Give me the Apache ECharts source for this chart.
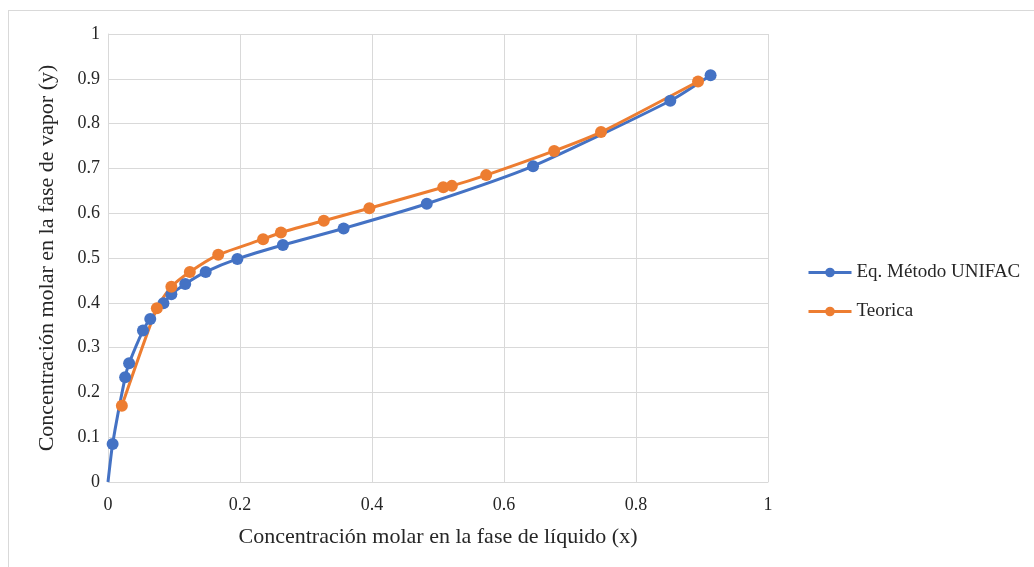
<!DOCTYPE html>
<html>
<head>
<meta charset="utf-8">
<script src="https://cdn.jsdelivr.net/npm/echarts@6/dist/echarts.min.js"></script>
<style>
  html, body { margin: 0; padding: 0; background: #fff; }
  #frame { position: absolute; left: 8px; top: 10px; width: 1026px; height: 557px;
           border-top: 1px solid #d9d9d9; border-left: 1px solid #d9d9d9; }
  #chart { position: absolute; left: 0; top: 0; width: 1034px; height: 567px; }
</style>
</head>
<body>
<div id="frame"></div>
<div id="chart"></div>
<script>
// series names
const seriesNames = ['Eq. Método UNIFAC', 'Teorica'];

// Eq. Método UNIFAC (x, y)
const unifacX = [0, 0.007, 0.026, 0.032, 0.053, 0.064, 0.084, 0.096, 0.117, 0.148, 0.196, 0.265, 0.357, 0.483, 0.644, 0.852, 0.913];
const unifacY = [0, 0.085, 0.234, 0.265, 0.338, 0.364, 0.399, 0.419, 0.442, 0.469, 0.498, 0.529, 0.566, 0.621, 0.705, 0.851, 0.908];

// Teorica (x, y)
const teoricaX = [0.021, 0.074, 0.096, 0.124, 0.167, 0.235, 0.262, 0.327, 0.396, 0.508, 0.521, 0.573, 0.676, 0.747, 0.894];
const teoricaY = [0.170, 0.388, 0.436, 0.469, 0.507, 0.542, 0.557, 0.583, 0.611, 0.658, 0.661, 0.685, 0.739, 0.781, 0.894];

const font = '"Liberation Serif", "Times New Roman", serif';

// 把 x/y 数组拼成点
const toPoints = (xs, ys) => xs.map((x, i) => [x, ys[i]]);

// 第一个点 (0,0) 不画标记
const unifacData = toPoints(unifacX, unifacY).map((p, i) =>
  i === 0 ? { value: p, symbol: 'none' } : p
);

const chart = echarts.init(document.getElementById('chart'), null, { renderer: 'canvas' });

const option = {
  animation: false,
  color: ['#4472C4', '#ED7D31'],
  grid: { left: 108, right: 266, top: 34, bottom: 85 },
  legend: {
    orient: 'vertical',
    left: 802,
    top: 258,
    itemWidth: 43,
    itemHeight: 12,
    itemGap: 20,
    lineStyle: { width: 3 },
    textStyle: { fontFamily: font, fontSize: 19, color: '#262626' },
    data: seriesNames
  },
  xAxis: {
    type: 'value',
    min: 0,
    max: 1,
    interval: 0.2,
    name: 'Concentración molar en la fase de líquido (x)',
    nameLocation: 'middle',
    nameGap: 44,
    nameTextStyle: { fontFamily: font, fontSize: 22, color: '#262626' },
    axisLine: { show: true, lineStyle: { color: '#d9d9d9', width: 1 } },
    axisTick: { show: false },
    axisLabel: { fontFamily: font, fontSize: 18, color: '#262626', margin: 14 },
    splitLine: { show: true, lineStyle: { color: '#d9d9d9', width: 1 } }
  },
  yAxis: {
    type: 'value',
    min: 0,
    max: 1,
    interval: 0.1,
    name: 'Concentración molar en la fase de vapor (y)',
    nameLocation: 'middle',
    nameGap: 50,
    nameTextStyle: { fontFamily: font, fontSize: 22, color: '#262626' },
    axisLine: { show: true, lineStyle: { color: '#d9d9d9', width: 1 } },
    axisTick: { show: false },
    axisLabel: { fontFamily: font, fontSize: 18, color: '#262626', margin: 8 },
    splitLine: { show: true, lineStyle: { color: '#d9d9d9', width: 1 } }
  },
  series: [
    {
      name: seriesNames[0],
      type: 'line',
      data: unifacData,
      smooth: 0.2,
      symbol: 'circle',
      symbolSize: 12,
      lineStyle: { width: 3 },
      clip: false
    },
    {
      name: seriesNames[1],
      type: 'line',
      data: toPoints(teoricaX, teoricaY),
      smooth: 0.2,
      symbol: 'circle',
      symbolSize: 12,
      lineStyle: { width: 3 },
      clip: false
    }
  ]
};

chart.setOption(option);
</script>
</body>
</html>
